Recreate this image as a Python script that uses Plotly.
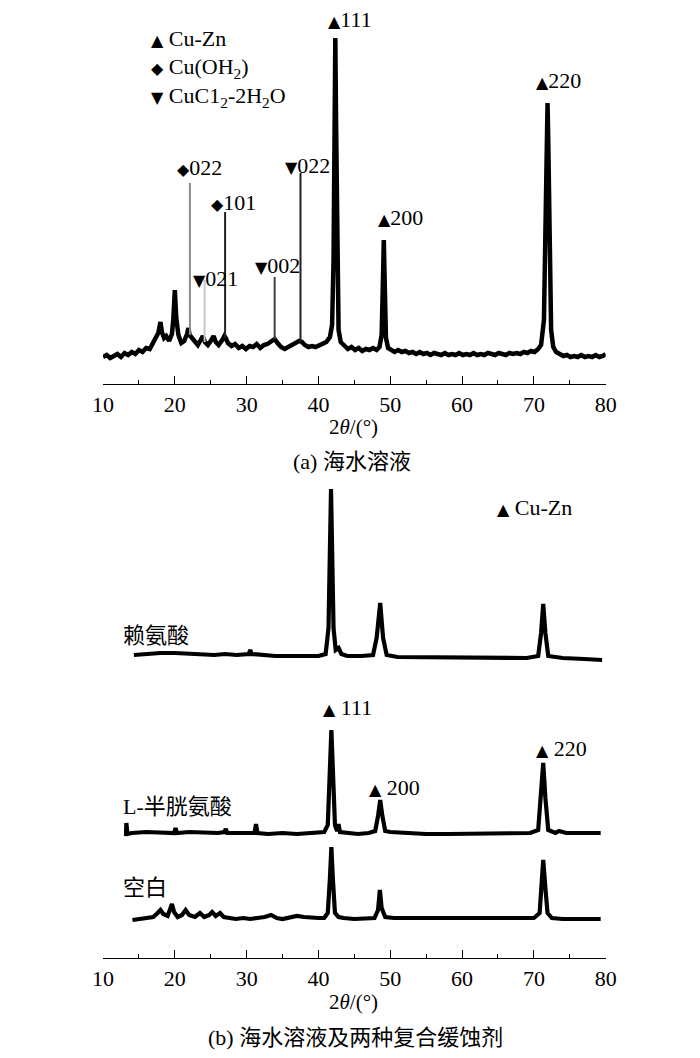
import plotly.graph_objects as go
from plotly.subplots import make_subplots

# (a) seawater solution - XRD pattern, intensity in a.u.
a_x = [10, 10.5, 11, 11.5, 12, 12.5, 13, 13.5, 14, 14.5, 15, 15.5, 16, 16.5, 17, 17.4, 17.7, 18.0, 18.2, 18.5,
       18.8, 19.2, 19.6, 19.8, 20.0, 20.2, 20.5, 20.9, 21.3, 21.7, 21.9, 22.05, 22.4, 22.8, 23.2, 23.6, 23.9, 24.2,
       24.6, 25.0, 25.4, 25.7, 26.1, 26.6, 26.9, 27.1, 27.4, 27.9, 28.4, 28.9, 29.4, 29.9, 30.4, 30.9, 31.4, 31.9,
       32.4, 32.9, 33.4, 33.9, 34.3, 34.8, 35.3, 35.8, 36.3, 36.8, 37.3, 37.7, 38.1, 38.6, 39.1, 39.6, 40.1, 40.6,
       41.1, 41.6, 41.9, 42.1, 42.25, 42.35, 42.45, 42.6, 42.8, 43.1, 43.6, 44.1, 44.6, 45.1, 45.6, 46.1, 46.6,
       47.1, 47.6, 48.1, 48.5, 48.8, 48.95, 49.1, 49.25, 49.4, 49.7, 50.1, 50.6, 51.1, 51.6, 52.1, 52.6, 53.1,
       53.6, 54.1, 54.6, 55.1, 55.6, 56.1, 56.6, 57.1, 57.6, 58.1, 58.6, 59.1, 59.6, 60.1, 60.6, 61.1, 61.6,
       62.1, 62.6, 63.1, 63.6, 64.1, 64.6, 65.1, 65.6, 66.1, 66.6, 67.1, 67.6, 68.1, 68.6, 69.1, 69.6, 70.1,
       70.6, 71.0, 71.4, 71.6, 71.8, 71.9, 72.0, 72.2, 72.4, 72.7, 73.1, 73.6, 74.1, 74.6, 75.1, 75.6, 76.1,
       76.6, 77.1, 77.6, 78.1, 78.6, 79.1, 79.6, 80]
a_y = [27, 29, 26, 28, 30, 27, 31, 29, 32, 30, 34, 32, 36, 35, 41, 46, 51, 62, 52, 46,
       48, 43, 50, 66, 94, 66, 49, 41, 43, 50, 56, 49, 46, 41, 39, 44, 48, 42,
       39, 43, 48, 42, 39, 44, 48, 46, 41, 38, 40, 36, 38, 35, 38, 37, 40, 36,
       39, 40, 42, 45, 41, 37, 35, 37, 38, 40, 43, 42, 39, 37, 38, 37, 39, 40,
       42, 47, 59, 124, 264, 346, 264, 104, 54, 42, 38, 35, 37, 34, 36, 33, 35,
       34, 36, 34, 37, 49, 94, 144, 94, 46, 36, 34, 32, 34, 32, 33, 31, 32,
       30, 32, 30, 31, 29, 31, 30, 29, 31, 29, 30, 29, 31, 29, 30, 29, 31,
       29, 30, 29, 31, 30, 29, 31, 30, 29, 31, 30, 31, 30, 32, 31, 33, 32,
       35, 39, 64, 154, 244, 281, 244, 144, 54, 37, 32, 30, 28, 29, 27, 28, 27,
       29, 27, 28, 27, 29, 27, 28, 30]

# narrow reflections of the corrosion products (a)
stick_x = [22.1, 24.15, 27.0, 33.9, 37.5]
stick_base = [49, 42, 46, 45, 42]
stick_top = [201, 104, 172, 107, 211]
stick_color = ["#8a8a8a", "#c8c8c8", "#202020", "#404040", "#202020"]

# (b) blank, L-cysteine, lysine (stacked, offset intensity)
blank_x = [14.1, 15, 16, 17, 17.6, 18.0, 18.4, 19.0, 19.4, 19.6, 19.9, 20.4, 21.0, 21.5, 22.0, 22.8, 23.5, 24.1,
           24.8, 25.2, 25.7, 26.3, 26.8, 27.5, 28.5, 29.5, 30.5, 31.5, 32.5, 33.4, 34.2, 35, 36, 37, 38, 39, 40,
           40.8, 41.3, 41.6, 41.8, 42.0, 42.3, 42.8, 43.5, 45, 46.5, 47.8, 48.3, 48.55, 48.8, 49.3, 50.5, 52, 54,
           56, 58, 60, 62, 64, 66, 68, 70, 70.8, 71.0, 71.3, 71.6, 71.9, 72.5, 74, 76, 78, 79.3]
blank_y = [38, 39, 40, 41, 45, 48, 44, 42, 50, 54, 46, 41, 43, 48, 43, 41, 45, 41,
           43, 46, 42, 45, 41, 40, 39, 40, 39, 40, 41, 43, 40, 39, 40, 42, 41, 40, 40,
           40, 45, 80, 111, 80, 45, 41, 40, 39, 39, 40, 48, 68, 50, 41, 40, 40, 39,
           40, 39, 39, 39, 39, 39, 39, 40, 45, 70, 98, 70, 45, 40, 39, 39, 39, 39]

cys_x = [13.2, 13.25, 13.4, 14, 16, 18, 19.9, 20.1, 20.3, 22, 24, 26, 26.9, 27.1, 27.3, 29, 31.1, 31.3, 31.5,
         33, 35, 37, 39, 40.8, 41.3, 41.6, 41.8, 42.0, 42.3, 42.6, 42.8, 43.0, 44, 45.5, 47, 47.9, 48.3, 48.6,
         48.9, 49.3, 50, 52, 55, 58, 61, 64, 67, 69.5, 70.6, 71.0, 71.3, 71.6, 72.0, 73.0, 73.5, 74.5, 77, 79.3]
cys_y = [122, 135, 124, 125, 126, 125, 125, 130, 125, 126, 125, 125, 126, 129, 125, 125, 125, 134, 125,
         124, 125, 124, 125, 126, 133, 190, 228, 190, 133, 127, 134, 126, 125, 124, 125, 127, 142, 158,
         142, 127, 126, 125, 124, 124, 124, 124, 124, 125, 128, 160, 195, 160, 128, 125, 127, 125, 125, 125]

lys_x = [14.3, 16, 18, 20, 22, 24, 25.5, 27, 28.6, 30.3, 30.5, 30.7, 32, 34, 36, 38, 40, 41.0, 41.4, 41.6,
         41.75, 41.9, 42.1, 42.4, 42.8, 43.2, 44, 46, 47.6, 48.1, 48.6, 49.0, 49.5, 51, 54, 57, 60, 63, 66,
         69, 70.6, 71.0, 71.3, 71.6, 72.0, 74, 77, 79.5]
lys_y = [303, 304, 305, 305, 304, 304, 303, 304, 303, 304, 308, 304, 303, 302, 302, 302, 302, 304, 330, 410,
         469, 410, 330, 308, 310, 304, 302, 302, 303, 320, 355, 320, 303, 301, 301, 300, 300, 300, 300,
         300, 302, 325, 354, 325, 302, 300, 299, 298]

x_ticks = [10, 20, 30, 40, 50, 60, 70, 80]

FONT = "Liberation Serif, Times New Roman, Noto Sans CJK SC, serif"
W, H = 700, 1058

fig = make_subplots(rows=2, cols=1)

fig.add_trace(go.Scatter(x=a_x, y=a_y, mode="lines", line=dict(color="black", width=4.5)), row=1, col=1)
for sx, sb, st, sc in zip(stick_x, stick_base, stick_top, stick_color):
    fig.add_trace(go.Scatter(x=[sx, sx], y=[sb, st], mode="lines", line=dict(color=sc, width=2)), row=1, col=1)

for xs, ys in [(blank_x, blank_y), (cys_x, cys_y), (lys_x, lys_y)]:
    fig.add_trace(go.Scatter(x=xs, y=ys, mode="lines", line=dict(color="black", width=4.2)), row=2, col=1)

# axis geometry (pixels -> paper)
x0, x1 = 95 / W, 614 / W
axis_style = dict(range=[10, 80], tickvals=x_ticks, ticks="inside", ticklen=8, tickwidth=1.2,
                  tickcolor="black", showline=True, linecolor="black", linewidth=1.3,
                  showgrid=False, zeroline=False, domain=[x0, x1],
                  minor=dict(dtick=5, tick0=0, ticks="inside", ticklen=4, tickwidth=1.1, tickcolor="black"),
                  tickfont=dict(family=FONT, size=22, color="black"))
fig.update_xaxes(**axis_style)
fig.update_yaxes(visible=False, showgrid=False, zeroline=False)
fig.update_yaxes(range=[0, 384], domain=[1 - 384 / H, 1], row=1, col=1)
fig.update_yaxes(range=[0, 488], domain=[1 - 958 / H, 1 - 470 / H], row=2, col=1)

SYM = '<span style="font-family:DejaVu Sans;font-size:16px">%s</span>'
TRI, DIA, INV = SYM % "▲", SYM % "◆", SYM % "▼"


def note(text, px, py, size=22, anchor="left"):
    fig.add_annotation(text=text, x=px / W, y=1 - py / H, xref="paper", yref="paper",
                       xanchor=anchor, yanchor="middle", showarrow=False,
                       font=dict(family=FONT, size=size, color="black"))


# panel (a) labels
note(TRI + " Cu-Zn", 142, 38)
note(DIA + " Cu(OH<sub>2</sub>)", 142, 68)
note(INV + " CuC1<sub>2</sub>-2H<sub>2</sub>O", 142, 97)
note(TRI + "111", 325, 20)
note(DIA + "022", 169, 168)
note(DIA + "101", 204, 203)
note(INV + "021", 186, 279)
note(INV + "002", 250, 266)
note(INV + "022", 281, 165)
note(TRI + "200", 377, 218)
note(TRI + "220", 540, 80)
note("2<i>θ</i>/(°)", 354, 427, 21, "center")
note("(a) 海水溶液", 352, 462, 22, "center")

# panel (b) labels
note(TRI + " Cu-Zn", 500, 507)
note("赖氨酸", 114, 635)
note(TRI + " 111", 320, 707)
note("L-半胱氨酸", 114, 806)
note(TRI + " 200", 368, 787)
note(TRI + " 220", 540, 748)
note("空白", 114, 887)
note("2<i>θ</i>/(°)", 354, 1002, 21, "center")
note("(b) 海水溶液及两种复合缓蚀剂", 356, 1037, 22, "center")

fig.update_layout(width=W, height=H, margin=dict(l=0, r=0, t=0, b=0),
                  paper_bgcolor="white", plot_bgcolor="white", showlegend=False)

fig.write_html("out.html", config={"displayModeBar": False},
               post_script="document.body.style.margin='0px';")
